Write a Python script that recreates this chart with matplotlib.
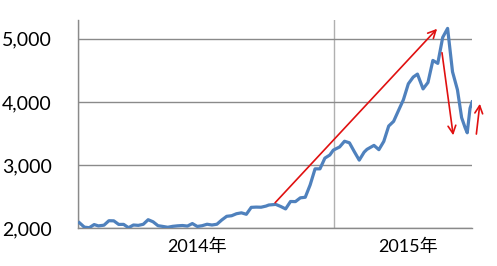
import matplotlib
matplotlib.use("Agg")
import matplotlib.pyplot as plt
import numpy as np

plt.rcParams['font.family'] = ['Lato', 'Noto Sans CJK JP', 'DejaVu Sans']

# weekly closes
dates = [
    "2014-01-03", "2014-01-10", "2014-01-17", "2014-01-24", "2014-01-30",
    "2014-02-07", "2014-02-14", "2014-02-21", "2014-02-28", "2014-03-07",
    "2014-03-14", "2014-03-21", "2014-03-28", "2014-04-04", "2014-04-11",
    "2014-04-18", "2014-04-25", "2014-05-01", "2014-05-09", "2014-05-16",
    "2014-05-23", "2014-05-30", "2014-06-06", "2014-06-13", "2014-06-20",
    "2014-06-27", "2014-07-04", "2014-07-11", "2014-07-18", "2014-07-25",
    "2014-08-01", "2014-08-08", "2014-08-15", "2014-08-22", "2014-08-29",
    "2014-09-05", "2014-09-12", "2014-09-19", "2014-09-26", "2014-09-30",
    "2014-10-10", "2014-10-17", "2014-10-24", "2014-10-31", "2014-11-07",
    "2014-11-14", "2014-11-21", "2014-11-28", "2014-12-05", "2014-12-12",
    "2014-12-19", "2014-12-26", "2014-12-31",
    "2015-01-09", "2015-01-16", "2015-01-23", "2015-01-30", "2015-02-06",
    "2015-02-13", "2015-02-17", "2015-02-27", "2015-03-06", "2015-03-13",
    "2015-03-20", "2015-03-27", "2015-04-03", "2015-04-10", "2015-04-17",
    "2015-04-24", "2015-04-30", "2015-05-08", "2015-05-15", "2015-05-22",
    "2015-05-29", "2015-06-05", "2015-06-12", "2015-06-19", "2015-06-26",
    "2015-07-02", "2015-07-07", "2015-07-10", "2015-07-14", "2015-07-17",
]
values = [
    2083, 2013, 2004, 2054, 2033,
    2044, 2115, 2113, 2056, 2057,
    2004, 2047, 2041, 2058, 2131,
    2098, 2036, 2026, 2011, 2026,
    2034, 2039, 2030, 2070, 2024,
    2036, 2059, 2047, 2059, 2127,
    2185, 2194, 2226, 2240, 2217,
    2327, 2331, 2329, 2347, 2364,
    2374, 2341, 2302, 2420, 2418,
    2478, 2487, 2683, 2938, 2938,
    3108, 3157, 3235,
    3285, 3376, 3351, 3210, 3076,
    3203, 3247, 3310, 3242, 3373,
    3617, 3691, 3864, 4035, 4287,
    4394, 4441, 4206, 4308, 4658,
    4611, 5023, 5166, 4478, 4193,
    3750, 3590, 3510, 3900, 4000,
]

yticks = [2000, 3000, 4000, 5000]
year_labels = ["2014年", "2015年"]
year_label_pos = ["2014-06-20", "2015-04-16"]

# red arrows: (start date, start value, end date, end value)
arrows = [
    ("2014-10-09", 2400, "2015-05-28", 5160),
    ("2015-06-04", 4780, "2015-06-20", 3470),
    ("2015-07-23", 3490, "2015-07-28", 3970),
]

x = np.array(dates, dtype="datetime64[D]")

fig = plt.figure(figsize=(4.97, 2.66), dpi=100)
ax = fig.add_axes([0.157, 0.143, 0.793, 0.782])

grey = "#8a8a8a"
ax.plot(x, values, color="#4F81BD", lw=2.3, solid_joinstyle="round", zorder=3)

for d0, v0, d1, v1 in arrows:
    ax.annotate("", xy=(np.datetime64(d1), v1), xytext=(np.datetime64(d0), v0),
                arrowprops=dict(arrowstyle="->", color="#E01010", lw=1.2,
                                mutation_scale=14, shrinkA=0, shrinkB=0),
                annotation_clip=False, zorder=4)

ax.set_xlim(np.datetime64("2014-01-01"), np.datetime64("2015-07-17"))
ax.set_ylim(2000, 5300)

ax.set_yticks(yticks)
ax.set_yticklabels([f"{v:,}" for v in yticks])
ax.tick_params(axis="y", length=0, pad=19, labelsize=14)

ax.set_xticks([np.datetime64("2014-01-01"), np.datetime64("2015-01-01")])
ax.set_xticklabels([])
ax.set_xticks(np.array(year_label_pos, dtype="datetime64[D]"), minor=True)
ax.set_xticklabels(year_labels, minor=True)
ax.tick_params(axis="x", which="both", length=0, pad=8, labelsize=13)

ax.grid(axis="y", color=grey, lw=1)
ax.grid(axis="x", which="major", color="#b0b0b0", lw=1)
ax.set_axisbelow(True)

for s in ["top", "right"]:
    ax.spines[s].set_visible(False)
for s in ["left", "bottom"]:
    ax.spines[s].set_color(grey)
    ax.spines[s].set_linewidth(1)

fig.savefig("out.png", dpi=100)
